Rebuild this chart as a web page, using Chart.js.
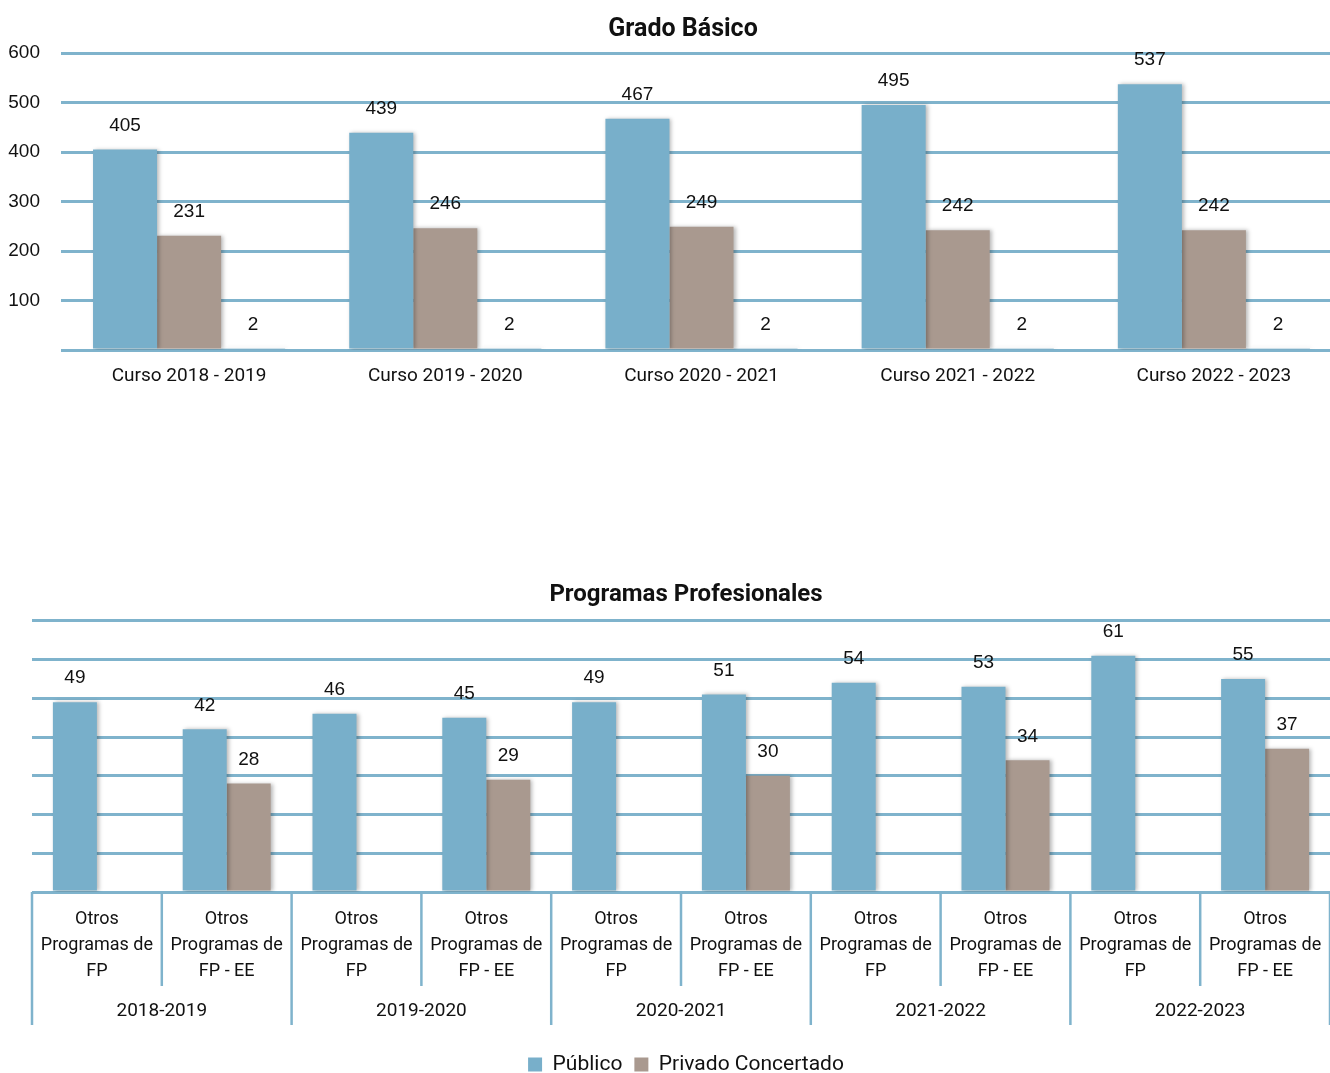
<!DOCTYPE html>
<html>
<head>
<meta charset="utf-8">
<script src="https://cdn.jsdelivr.net/npm/chart.js@4.4.1/dist/chart.umd.min.js"></script>
<style>
    body { margin: 0; background: #fff; overflow: hidden; }
    #wrap { position: relative; width: 1330px; height: 1073px; overflow: hidden; }
    #grado { position: absolute; left: 0; top: 0; }
    #programas { position: absolute; left: 0; top: 570px; }
</style>
</head>
<body>
<div id="wrap">
    <canvas id="grado" width="1366" height="400"></canvas>
    <canvas id="programas" width="1330" height="515"></canvas>
</div>
<script>
// Grado Básico
const cursos = ['Curso 2018 - 2019', 'Curso 2019 - 2020', 'Curso 2020 - 2021', 'Curso 2021 - 2022', 'Curso 2022 - 2023'];
const gradoPublico = [405, 439, 467, 495, 537];
const gradoPrivado = [231, 246, 249, 242, 242];
const gradoOtros = [2, 2, 2, 2, 2];
const gradoTicks = [0, 100, 200, 300, 400, 500, 600];

// Programas Profesionales
const years = ['2018-2019', '2019-2020', '2020-2021', '2021-2022', '2022-2023'];
const programas = [['Otros', 'Programas de', 'FP'], ['Otros', 'Programas de', 'FP - EE']];
const progPublico = [49, 42, 46, 45, 49, 51, 54, 53, 61, 55];
const progPrivado = [null, 28, null, 29, null, 30, null, 34, null, 37];

const BLUE = '#78afca';
const GREY = '#a9998f';
const GRID = '#7fb3cc';
const TEXT = '#111111';
const NARROW = 'Roboto, "Liberation Sans", sans-serif';
const PLAIN = '"Liberation Sans", Arial, sans-serif';

// bar shadows + value labels over every bar
const barExtras = {
    id: 'barExtras',
    beforeDatasetsDraw(chart) {
        const ctx = chart.ctx;
        ctx.save();
        ctx.shadowColor = 'rgba(0, 0, 0, 0.28)';
        ctx.shadowBlur = 4;
        ctx.shadowOffsetX = 2;
        ctx.shadowOffsetY = 0;
    },
    afterDatasetsDraw(chart) {
        const ctx = chart.ctx;
        ctx.restore();
        ctx.save();
        ctx.font = '19px ' + PLAIN;
        ctx.fillStyle = TEXT;
        ctx.textAlign = 'center';
        ctx.textBaseline = 'middle';
        chart.data.datasets.forEach((ds, i) => {
            const meta = chart.getDatasetMeta(i);
            meta.data.forEach((bar, j) => {
                const v = ds.data[j];
                if (v === null || v === undefined) return;
                ctx.fillText(String(v), bar.x, bar.y - 24);
            });
        });
        ctx.restore();
    }
};

// separators and year row under the programas axis
const groupAxis = {
    id: 'groupAxis',
    afterDraw(chart) {
        const x = chart.scales.x;
        const ctx = chart.ctx;
        const n = x.ticks.length;
        const step = x.width / n;
        ctx.save();
        ctx.strokeStyle = GRID;
        ctx.lineWidth = 2.5;
        for (let i = 0; i <= n; i++) {
            const px = x.left + i * step;
            ctx.beginPath();
            ctx.moveTo(px, x.top);
            ctx.lineTo(px, x.top + (i % 2 === 0 ? 133 : 94));
            ctx.stroke();
        }
        ctx.font = '19px ' + NARROW;
        ctx.fillStyle = TEXT;
        ctx.textAlign = 'center';
        ctx.textBaseline = 'middle';
        years.forEach((y, g) => {
            ctx.fillText(y, x.left + (2 * g + 1) * step, x.top + 119);
        });
        ctx.restore();
    }
};

// the original centres title/legend a bit right of the canvas middle
function shiftBlocks(dx) {
    return {
        id: 'shiftBlocks',
        afterLayout(chart) {
            [chart.titleBlock, chart.legend].forEach(b => {
                if (b) {
                    b.left += dx;
                    b.right += dx;
                }
            });
        }
    };
}

function noSidePadding(scale) {
    scale.paddingLeft = 0;
    scale.paddingRight = 0;
}

function initGradoChart() {
    const ctx = document.getElementById('grado').getContext('2d');
    return new Chart(ctx, {
        type: 'bar',
        data: {
            labels: cursos,
            datasets: [
                { label: 'Público', data: gradoPublico, backgroundColor: BLUE },
                { label: 'Privado Concertado', data: gradoPrivado, backgroundColor: GREY },
                { label: 'Otros', data: gradoOtros, backgroundColor: '#a6cadc' }
            ]
        },
        options: {
            responsive: false,
            animation: false,
            layout: { padding: { bottom: 10, right: 24, left: 0 } },
            datasets: { bar: { categoryPercentage: 0.75, barPercentage: 1 } },
            plugins: {
                legend: { display: false },
                tooltip: { enabled: false },
                title: {
                    display: true,
                    text: 'Grado Básico',
                    color: TEXT,
                    font: { family: NARROW, size: 25, weight: 'bold' },
                    padding: { top: 15, bottom: 8 }
                }
            },
            scales: {
                x: {
                    grid: { display: false, drawTicks: false },
                    border: { display: false },
                    afterFit(scale) { scale.height = 40; noSidePadding(scale); },
                    ticks: { color: TEXT, font: { family: NARROW, size: 19 }, padding: 15 }
                },
                y: {
                    min: gradoTicks[0],
                    max: gradoTicks[gradoTicks.length - 1],
                    afterBuildTicks(scale) {
                        scale.ticks = gradoTicks.map(v => ({ value: v }));
                    },
                    afterFit(scale) { scale.width = 61; },
                    grid: { color: GRID, lineWidth: 3, drawTicks: false },
                    border: { display: false },
                    ticks: {
                        color: TEXT,
                        font: { family: PLAIN, size: 19 },
                        padding: 21,
                        callback: v => (v === 0 ? '' : v)
                    }
                }
            }
        },
        plugins: [barExtras, shiftBlocks(12)]
    });
}

function initProgramasChart() {
    const ctx = document.getElementById('programas').getContext('2d');
    const labels = [];
    years.forEach(() => {
        programas.forEach(p => labels.push(p));
    });
    return new Chart(ctx, {
        type: 'bar',
        data: {
            labels: labels,
            datasets: [
                { label: 'Público', data: progPublico, backgroundColor: BLUE },
                { label: 'Privado Concertado', data: progPrivado, backgroundColor: GREY }
            ]
        },
        options: {
            responsive: false,
            animation: false,
            layout: { padding: { bottom: 0, right: 0, left: 0 } },
            datasets: { bar: { categoryPercentage: 0.678, barPercentage: 1 } },
            plugins: {
                legend: {
                    position: 'bottom',
                    labels: {
                        color: TEXT,
                        boxWidth: 14,
                        boxHeight: 14,
                        padding: 12,
                        font: { family: NARROW, size: 21 }
                    }
                },
                tooltip: { enabled: false },
                title: {
                    display: true,
                    text: 'Programas Profesionales',
                    color: TEXT,
                    font: { family: NARROW, size: 24, weight: 'bold' },
                    padding: { top: 11, bottom: 11 }
                }
            },
            scales: {
                x: {
                    grid: { display: false, drawTicks: false },
                    border: { display: false },
                    afterFit(scale) { scale.height = 150; noSidePadding(scale); },
                    ticks: {
                        color: TEXT,
                        font: { family: NARROW, size: 18, lineHeight: 1.45 },
                        padding: 14,
                        maxRotation: 0,
                        autoSkip: false
                    }
                },
                y: {
                    min: 0,
                    max: 70,
                    afterFit(scale) { scale.width = 32; },
                    grid: { color: GRID, lineWidth: 3, drawTicks: false },
                    border: { display: false },
                    ticks: { display: false, stepSize: 10 }
                }
            }
        },
        plugins: [barExtras, groupAxis, shiftBlocks(21)]
    });
}

document.addEventListener('DOMContentLoaded', () => {
    initGradoChart();
    initProgramasChart();
});
</script>
</body>
</html>
